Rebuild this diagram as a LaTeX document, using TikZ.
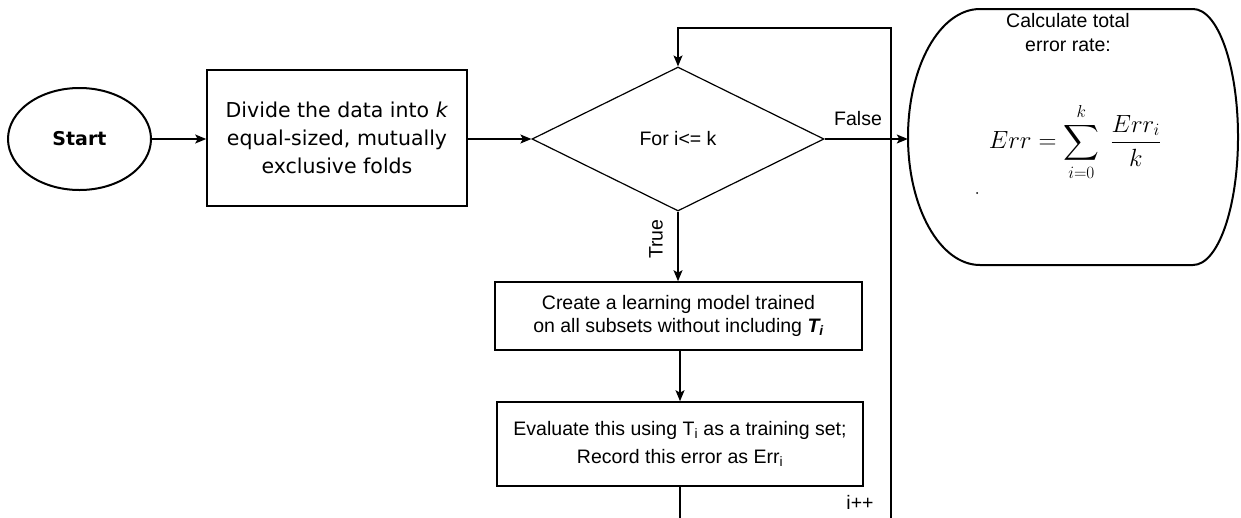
\documentclass[tikz,border=0pt]{standalone}
\usepackage{amsmath}
\usepackage{fontspec}
\newfontfamily\vfont{DejaVu Sans}
\newfontfamily\hfont{Liberation Sans}
\usetikzlibrary{shapes.geometric,arrows.meta}

\begin{document}
\begin{tikzpicture}[x=1pt,y=-1pt,
  box/.style={draw,line width=1.6pt,rectangle,inner sep=0pt,align=center},
  wire/.style={line width=1.3pt},
  conn/.style={wire,-{Stealth[length=11pt,width=9pt,inset=2.5pt]}},
  hsf/.style={font=\hfont\fontsize{19.5}{23}\selectfont},
]
\useasboundingbox (0,0) rectangle (1241,517);
\fill[white] (0,0) rectangle (1241,517);
\clip (0,0) rectangle (1241,517);

% start terminal
\node[draw,ellipse,line width=2pt,minimum width=143pt,minimum height=102pt,inner sep=0pt]
  (start) at (79.5,139) {\vfont\bfseries\fontsize{19}{23}\selectfont Start};

% split the data into folds
\node[box,minimum width=260pt,minimum height=136pt,
      font=\vfont\fontsize{20.5}{28}\selectfont]
  (divide) at (337,138) {Divide the data into \textit{k}\\equal-sized, mutually\\exclusive folds};

% loop condition
\node[draw,diamond,line width=1.2pt,minimum width=292pt,minimum height=144pt,inner sep=0pt,hsf]
  (cond) at (678,139) {For i<= k};

% loop body
\node[box,minimum width=367pt,minimum height=68pt,hsf]
  (create) at (678.5,316) {Create a learning model trained\\on all subsets without including \textbf{\textit{T\textsubscript{i}}}};
\node[box,minimum width=366pt,minimum height=84pt,
      font=\hfont\fontsize{19.5}{28}\selectfont]
  (eval) at (680,444) {Evaluate this using T\textsubscript{i} as a training set;\\Record this error as Err\textsubscript{i}};

% final result: a box with bulging rounded sides
\node[minimum width=330pt,minimum height=256pt,inner sep=0pt] (total) at (1073,137) {};
\draw[line width=2pt]
  (980,9) -- (1193,9)
  .. controls (1218,9) and (1238,66.3) .. (1238,137)
  .. controls (1238,207.7) and (1218,265) .. (1193,265)
  -- (980,265)
  .. controls (940,265) and (908,207.7) .. (908,137)
  .. controls (908,66.3) and (940,9) .. cycle;
\node[align=center,font=\hfont\fontsize{19.5}{24}\selectfont] (title) at (1068,33)
  {Calculate total\\error rate:};
\node (frm) at (1075,142)
  {\fontsize{26}{30}\selectfont$\displaystyle Err=\sum_{i=0}^{k}\;\frac{Err_i}{k}$};
\fill (977,193) circle (1pt);

% connectors
\draw[conn] (start.east) -- (start.east -| divide.west);
\draw[conn] (divide.east |- cond.west) -- (cond.west);
\draw[conn] (cond.east) -- (cond.east -| total.west);
\node[hsf] (flab) at (858,119) {False};
\draw[conn] (cond.south) -- (create.north -| cond.south);
\node[hsf,rotate=90] (tlab) at (656,239) {True};
\draw[conn] (create.south -| eval.north) -- (eval.north);

% back edge of the loop
\coordinate (lb) at (891,540);
\coordinate (lt) at (891,28);
\draw[conn] (eval.south) |- (lb) -- (lt) -| (cond.north);
\node[hsf] (inc) at (860,502) {i++};
\end{tikzpicture}
\end{document}
